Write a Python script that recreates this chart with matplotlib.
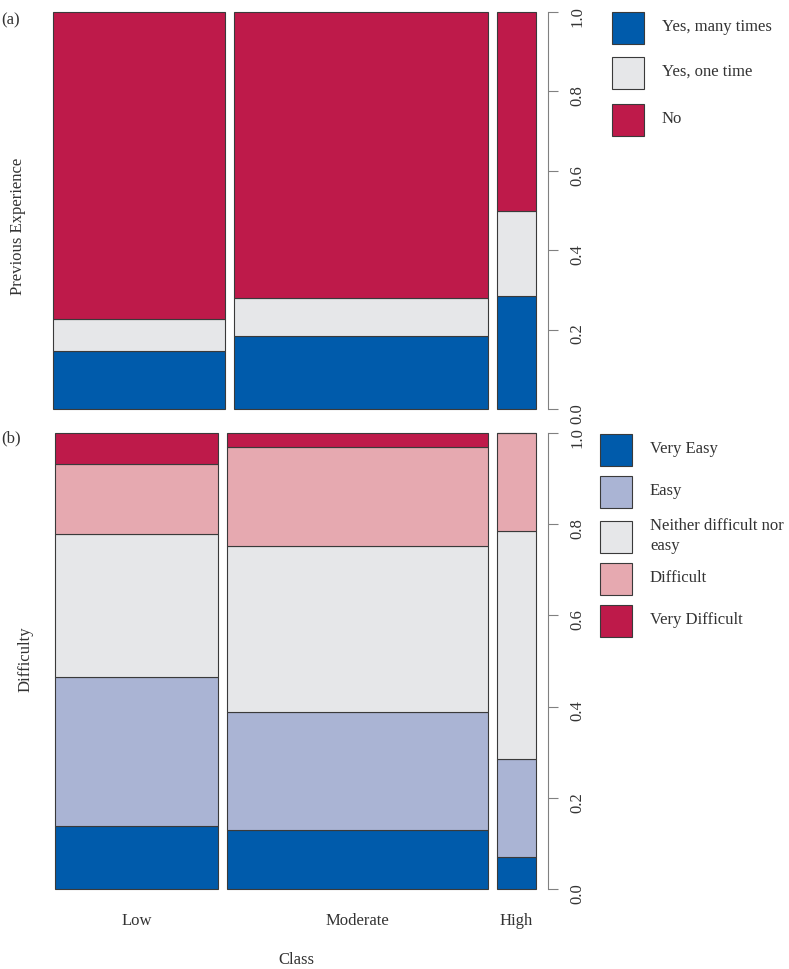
import matplotlib
matplotlib.use('Agg')
import matplotlib.pyplot as plt
from matplotlib.patches import Rectangle

plt.rcParams['font.family'] = ['Liberation Serif', 'DejaVu Serif']

# 資料 (讀圖估計)
classes = ['Low', 'Moderate', 'High']

# (a) Previous Experience : 各班寬度比例與各類別比例
exp_share = [0.369, 0.548, 0.083]
exp_labels = ['Yes, many times', 'Yes, one time', 'No']
exp_many = [0.146, 0.185, 0.285]
exp_one = [0.080, 0.095, 0.214]
exp_no = [0.774, 0.720, 0.501]

# (b) Difficulty
diff_share = [0.352, 0.564, 0.084]
diff_labels = ['Very Easy', 'Easy', 'Neither difficult nor\neasy', 'Difficult', 'Very Difficult']
very_easy = [0.138, 0.130, 0.071]
easy = [0.328, 0.258, 0.215]
neither = [0.312, 0.365, 0.500]
difficult = [0.153, 0.216, 0.214]
very_difficult = [0.069, 0.031, 0.0]

blue = '#005BAB'
lav = '#AAB4D4'
grey = '#E6E7E9'
pink = '#E6A9B0'
red = '#BE1A4A'

W, H = 789, 969
fig = plt.figure(figsize=(W / 100, H / 100), dpi=100)


def px_axes(x0, y0, x1, y1):
    return fig.add_axes([x0 / W, 1 - y1 / H, (x1 - x0) / W, (y1 - y0) / H])


def spine_plot(ax, share, series, colors, gap=0.0186):
    scale = (1 - gap * (len(share) - 1)) / sum(share)
    widths = [s * scale for s in share]
    lefts = []
    x = 0
    for w in widths:
        lefts.append(x)
        x += w + gap
    bottom = [0.0] * len(share)
    for vals, c in zip(series, colors):
        ax.bar(lefts, vals, width=widths, bottom=bottom, align='edge', color=c,
               edgecolor='#3a3a3a', linewidth=0.8, clip_on=False)
        bottom = [b + v for b, v in zip(bottom, vals)]
    ax.set_xlim(0, 1)
    ax.set_ylim(0, 1)
    for s in ['left', 'top', 'bottom']:
        ax.spines[s].set_visible(False)
    ax.spines['right'].set_position(('outward', 8.3))
    ax.spines['right'].set_bounds(0, 1)
    ax.spines['right'].set_color('#808080')
    ax.yaxis.tick_right()
    ax.set_yticks([0, 0.2, 0.4, 0.6, 0.8, 1.0])
    ax.set_yticklabels(['0.0', '0.2', '0.4', '0.6', '0.8', '1.0'])
    ax.tick_params(axis='y', length=7, color='#808080', labelsize=12,
                   labelcolor='#333333', labelrotation=90, pad=9)
    ax.set_xticks([])
    return [l + w / 2 for l, w in zip(lefts, widths)]


def legend_box(x, ys, labels, colors, tx):
    for y, lab, c in zip(ys, labels, colors):
        fig.patches.append(Rectangle((x / W, 1 - (y + 32) / H), 32 / W, 32 / H,
                                     transform=fig.transFigure, facecolor=c,
                                     edgecolor='#3a3a3a', linewidth=0.8))
        fig.text(tx / W, 1 - (y + 15) / H, lab, ha='left', va='center',
                 fontsize=12, color='#333333', linespacing=1.25)


ax1 = px_axes(53, 12, 536, 409)
spine_plot(ax1, exp_share, [exp_many, exp_one, exp_no], [blue, grey, red])

ax2 = px_axes(55, 433, 536, 889)
centers = spine_plot(ax2, diff_share, [very_easy, easy, neither, difficult, very_difficult],
                     [blue, lav, grey, pink, red])
for c, name in zip(centers, classes):
    ax2.text(c, -0.07, name, transform=ax2.transAxes, ha='center', va='center',
             fontsize=12, color='#333333')

legend_box(612, [12, 57, 104], exp_labels, [blue, grey, red], 662)
legend_box(600, [434, 476, 521, 563, 605], diff_labels, [blue, lav, grey, pink, red], 650)

fig.text(11 / W, 1 - 20 / H, '(a)', ha='center', va='center', fontsize=12, color='#333333')
fig.text(11 / W, 1 - 438 / H, '(b)', ha='center', va='center', fontsize=12, color='#333333')
fig.text(18 / W, 1 - 226 / H, 'Previous Experience', rotation=90, ha='center', va='center',
         fontsize=12, color='#333333')
fig.text(26 / W, 1 - 659 / H, 'Difficulty', rotation=90, ha='center', va='center',
         fontsize=12, color='#333333')
fig.text(296 / W, 1 - 960 / H, 'Class', ha='center', va='center', fontsize=12, color='#333333')

fig.savefig('out.png', dpi=100)
